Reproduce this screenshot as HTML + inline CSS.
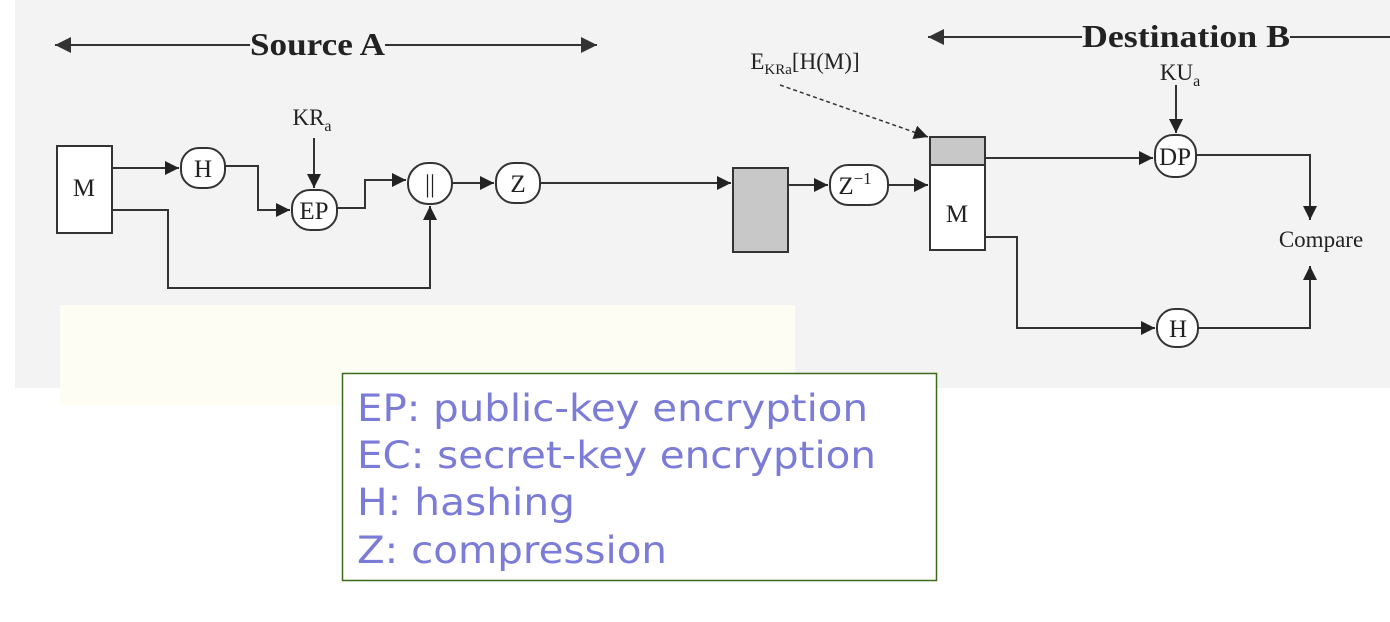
<!DOCTYPE html>
<html><head><meta charset="utf-8"><style>
html,body{margin:0;padding:0;background:#fff;}
svg{display:block}
</style></head><body>
<svg width="1390" height="622" viewBox="0 0 1390 622" xmlns="http://www.w3.org/2000/svg">
<defs>
<marker id="a" viewBox="0 0 10 10" refX="10" refY="5" markerWidth="16" markerHeight="14" markerUnits="userSpaceOnUse" orient="auto"><path d="M0,0 L10,5 L0,10z" fill="#222"/></marker>
<marker id="b" viewBox="0 0 10 10" refX="10" refY="5" markerWidth="20" markerHeight="16" markerUnits="userSpaceOnUse" orient="auto"><path d="M0,0 L10,5 L0,10z" fill="#333"/></marker>
</defs>
<rect x="15" y="0" width="1375" height="388" fill="#f3f3f3"/>
<rect x="60" y="305" width="735" height="100" fill="#fdfdf3"/>
<g font-family="Liberation Serif, serif" fill="#222" stroke="none" font-weight="bold" font-size="32">
<text x="250" y="55" textLength="135" lengthAdjust="spacingAndGlyphs">Source A</text>
<text x="1082" y="47" textLength="208" lengthAdjust="spacingAndGlyphs">Destination B</text>
</g>
<g stroke="#333" stroke-width="2" fill="none">
<line x1="250" y1="45" x2="55" y2="45" marker-end="url(#b)"/>
<line x1="385" y1="45" x2="597" y2="45" marker-end="url(#b)"/>
<line x1="1082" y1="37" x2="928" y2="37" marker-end="url(#b)"/>
<line x1="1290" y1="37" x2="1390" y2="37"/>
</g>
<g stroke="#333" stroke-width="2" fill="none">
<rect x="57" y="146" width="55" height="87" fill="#fff"/>
<rect x="181" y="148" width="44" height="40" rx="18" fill="#fff"/>
<rect x="292" y="190" width="45" height="40" rx="18" fill="#fff"/>
<rect x="408" y="163" width="44" height="41" rx="20" fill="#fff"/>
<rect x="496" y="163" width="44" height="40" rx="18" fill="#fff"/>
<rect x="733" y="168" width="55" height="84" fill="#c8c8c8"/>
<rect x="830" y="165" width="58" height="40" rx="18" fill="#fff"/>
<rect x="930" y="137" width="55" height="113" fill="#fff"/>
<rect x="930" y="137" width="55" height="28" fill="#c8c8c8"/>
<rect x="1155" y="135" width="41" height="42" rx="18" fill="#fff"/>
<rect x="1157" y="309" width="41" height="38" rx="18" fill="#fff"/>
<polyline points="112,168 179,168" marker-end="url(#a)"/>
<polyline points="225,166 258,166 258,210 290,210" marker-end="url(#a)"/>
<polyline points="314,138 314,188" marker-end="url(#a)"/>
<polyline points="337,208 365,208 365,180 406,180" marker-end="url(#a)"/>
<polyline points="452,183 494,183" marker-end="url(#a)"/>
<polyline points="112,210 168,210 168,288 430,288 430,206" marker-end="url(#a)"/>
<polyline points="540,183 731,183" marker-end="url(#a)"/>
<polyline points="788,185 828,185" marker-end="url(#a)"/>
<polyline points="888,185 928,185" marker-end="url(#a)"/>
<polyline points="780,85 928,137" stroke-dasharray="4,3" stroke-width="1.5" marker-end="url(#a)"/>
<polyline points="985,158 1153,158" marker-end="url(#a)"/>
<polyline points="1176,85 1176,133" marker-end="url(#a)"/>
<polyline points="1196,155 1310,155 1310,220" marker-end="url(#a)"/>
<polyline points="985,237 1017,237 1017,328 1155,328" marker-end="url(#a)"/>
<polyline points="1198,328 1310,328 1310,266" marker-end="url(#a)"/>
</g>
<g font-family="Liberation Serif, serif" fill="#222" font-size="25" text-anchor="middle">
<text x="84" y="196">M</text>
<text x="203" y="177">H</text>
<text x="314" y="219">EP</text>
<text x="430" y="192">||</text>
<text x="518" y="192">Z</text>
<text x="855" y="194">Z<tspan font-size="17" dy="-10">−1</tspan></text>
<text x="957" y="222">M</text>
<text x="1175" y="165">DP</text>
<text x="1178" y="337">H</text>
<text x="1321" y="247" font-size="23">Compare</text>
<text x="312" y="125" font-size="23">KR<tspan font-size="16" dy="6">a</tspan></text>
<text x="1180" y="80" font-size="23">KU<tspan font-size="16" dy="6">a</tspan></text>
<text x="805" y="69" font-size="23">E<tspan font-size="15" dy="5">KRa</tspan><tspan dy="-5">[H(M)]</tspan></text>
</g>
<rect x="342.5" y="373.5" width="594" height="207" fill="#fff" stroke="#3a6a1a" stroke-width="1.5"/>
<g font-family="DejaVu Sans, Verdana, sans-serif" font-size="37" fill="#7b7bd8">
<text x="357" y="421" textLength="511" lengthAdjust="spacingAndGlyphs">EP: public-key encryption</text>
<text x="357" y="468" textLength="519" lengthAdjust="spacingAndGlyphs">EC: secret-key encryption</text>
<text x="357" y="515" textLength="218" lengthAdjust="spacingAndGlyphs">H: hashing</text>
<text x="357" y="563" textLength="310" lengthAdjust="spacingAndGlyphs">Z: compression</text>
</g>
</svg>
</body></html>
